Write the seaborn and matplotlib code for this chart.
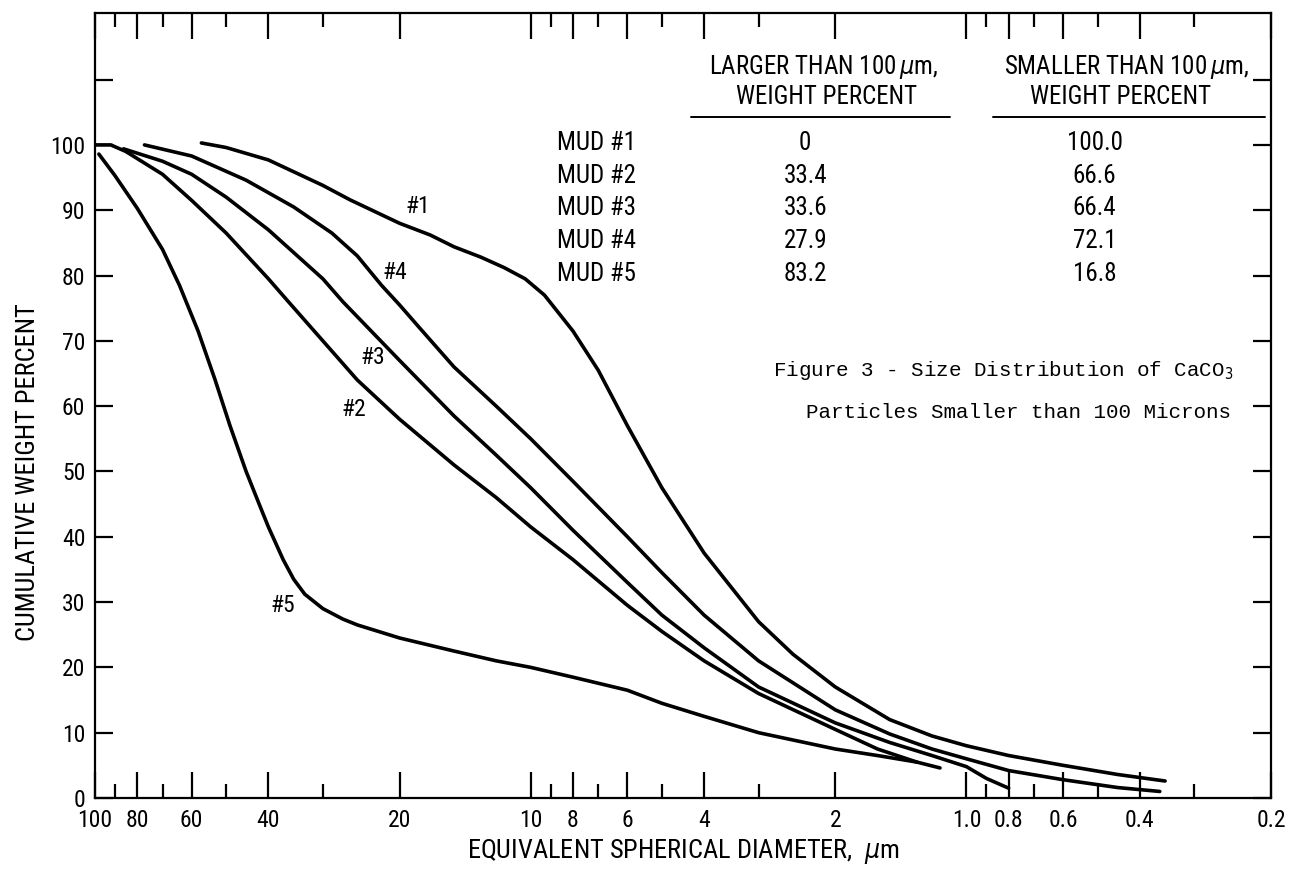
import pandas as pd
import matplotlib
matplotlib.use("Agg")
import matplotlib.pyplot as plt
import matplotlib.transforms as mtrans
from matplotlib import font_manager
import seaborn as sns

# curvas: diametro (um) x % acumulada
mud1_x = [57, 50, 40, 30, 26, 20, 17, 15, 13, 11.5, 10.3, 9.3, 8, 7, 6, 5, 4, 3, 2.5, 2, 1.5, 1.2, 1.0, 0.8, 0.6, 0.45, 0.35]
mud1_y = [100.3, 99.6, 97.7, 93.8, 91.6, 88.0, 86.2, 84.4, 82.8, 81.2, 79.5, 77, 71.5, 65.5, 57, 47.5, 37.5, 27, 22, 17, 12, 9.5, 8, 6.5, 5, 3.6, 2.6]
mud2_x = [100, 92, 85, 70, 60, 50, 40, 36, 30, 25, 20, 15, 12, 10, 8, 6, 5, 4, 3, 2, 1.6, 1.3, 1.15]
mud2_y = [100, 100, 99, 95.5, 91.5, 86.5, 79.5, 76, 70, 64, 58, 51, 46, 41.5, 36.5, 29.5, 25.5, 21, 16, 10.5, 7.5, 5.5, 4.6]
mud3_x = [86, 70, 60, 50, 40, 30, 27, 20, 15, 12, 10, 8, 6, 5, 4, 3, 2, 1.5, 1.2, 1.0, 0.9, 0.8]
mud3_y = [99.4, 97.5, 95.5, 92, 87, 79.5, 76, 67, 58.5, 52.5, 47.5, 41, 33, 28, 23, 17, 11.5, 8.5, 6.5, 4.8, 3.0, 1.5]
mud4_x = [77, 60, 45, 35, 28.6, 25, 22, 20, 18, 15, 12, 10, 8, 6, 5, 4, 3, 2, 1.5, 1.2, 1.0, 0.8, 0.6, 0.45, 0.36]
mud4_y = [100, 98.3, 94.6, 90.5, 86.5, 83, 78.5, 75.5, 72, 66, 60, 55, 48.5, 40, 34.5, 28, 21, 13.5, 9.8, 7.5, 6, 4.2, 2.8, 1.6, 1.0]
mud5_x = [98, 90, 80, 70, 64, 58, 53, 49, 45, 42, 40, 37, 35, 33, 30, 27, 25, 20, 15, 12, 10, 8, 6, 5, 4, 3, 2, 1.6, 1.3]
mud5_y = [98.6, 95.3, 90.3, 84, 78.5, 71.5, 64, 57, 50, 45, 41.5, 36.5, 33.5, 31.2, 29, 27.4, 26.5, 24.5, 22.5, 21, 20, 18.5, 16.5, 14.5, 12.5, 10, 7.5, 6.5, 5.5]

curve_labels = ['#1', '#2', '#3', '#4', '#5']
label_x = [18.2, 25.5, 23, 20.5, 37]
label_y = [90.5, 59.5, 67.5, 80.5, 29.5]

tick_x = [100, 80, 60, 40, 20, 10, 8, 6, 4, 2, 1, 0.8, 0.6, 0.4, 0.2]
tick_x_labels = ['100', '80', '60', '40', '20', '10', '8', '6', '4', '2', '1.0', '0.8', '0.6', '0.4', '0.2']
minor_x = [90, 70, 50, 30, 9, 7, 5, 3, 0.9, 0.7, 0.5, 0.3]
tick_y = [0, 10, 20, 30, 40, 50, 60, 70, 80, 90, 100, 110]
tick_y_labels = ['0', '10', '20', '30', '40', '50', '60', '70', '80', '90', '100', '']

mud_names = ['MUD #1', 'MUD #2', 'MUD #3', 'MUD #4', 'MUD #5']
larger_pct = ['0', '33.4', '33.6', '27.9', '83.2']
smaller_pct = ['100.0', '66.6', '66.4', '72.1', '16.8']
row_y = [100.3, 95.3, 90.4, 85.3, 80.2]

frames = []
for nome, xs, ys in zip(curve_labels,
                        [mud1_x, mud2_x, mud3_x, mud4_x, mud5_x],
                        [mud1_y, mud2_y, mud3_y, mud4_y, mud5_y]):
    frames.append(pd.DataFrame({'mud': nome, 'diam': xs, 'pct': ys}))
df = pd.concat(frames, ignore_index=True)

sns.set_theme(style="ticks")

# fonte estreita se existir
instaladas = {f.name for f in font_manager.fontManager.ttflist}
condensadas = [f.name for f in font_manager.fontManager.ttflist if f.stretch in ('condensed', 'semi-condensed')]
narrow = [n for n in ['Liberation Sans Narrow', 'Roboto Condensed', 'Open Sans Condensed'] if n in instaladas]
if not narrow and condensadas:
    narrow = [condensadas[0]]
narrow = narrow + ['DejaVu Sans']
mono = [n for n in ['Liberation Mono', 'DejaVu Sans Mono'] if n in instaladas]

plt.rcParams['font.family'] = narrow
plt.rcParams['font.stretch'] = 'condensed'
plt.rcParams['text.color'] = 'black'
plt.rcParams['axes.labelcolor'] = 'black'
plt.rcParams['xtick.color'] = 'black'
plt.rcParams['ytick.color'] = 'black'
plt.rcParams['axes.linewidth'] = 1.6

fig = plt.figure(figsize=(12.91, 8.84), dpi=100)
ax = fig.add_axes([0.0736, 0.0973, 0.9109, 0.888])
ax.set_xscale('log')

sns.lineplot(data=df, x='diam', y='pct', hue='mud', palette=['black'] * 5,
             sort=False, estimator=None, legend=False, linewidth=2.6, ax=ax)

ax.set_xlim(100, 0.2)
ax.set_ylim(0, 120.2)
ax.set_xticks(tick_x)
ax.set_xticklabels(tick_x_labels, fontsize=17)
ax.set_xticks(minor_x, minor=True)
ax.xaxis.set_minor_formatter(plt.NullFormatter())
ax.set_yticks(tick_y)
ax.set_yticklabels(tick_y_labels, fontsize=17)
ax.tick_params(axis='x', which='major', direction='in', length=19, width=1.6, top=True, bottom=True, pad=8)
ax.tick_params(axis='x', which='minor', direction='in', length=10, width=1.6, top=True, bottom=True)
ax.tick_params(axis='y', which='major', direction='in', length=13, width=1.6, left=True, right=True, pad=7)
for s in ax.spines.values():
    s.set_color('black')

ax.set_xlabel('EQUIVALENT SPHERICAL DIAMETER,  $\\mu$m', fontsize=19)
ax.xaxis.set_label_coords(0.5, -0.05)
ax.set_ylabel('CUMULATIVE WEIGHT PERCENT', fontsize=19)
ax.yaxis.set_label_coords(-0.047, 0.415)

for lab, lx, ly in zip(curve_labels, label_x, label_y):
    ax.text(lx, ly, lab, fontsize=17, ha='center', va='center')

# tabela no canto
tr = mtrans.blended_transform_factory(ax.transAxes, ax.transData)
fs_tab = 18
ax.text(0.620, 112, 'LARGER THAN 100$\\,\\mu$m,', transform=tr, fontsize=fs_tab, ha='center', va='center')
ax.text(0.622, 107.3, 'WEIGHT PERCENT', transform=tr, fontsize=fs_tab, ha='center', va='center')
ax.text(0.877, 112, 'SMALLER THAN 100$\\,\\mu$m,', transform=tr, fontsize=fs_tab, ha='center', va='center')
ax.text(0.872, 107.3, 'WEIGHT PERCENT', transform=tr, fontsize=fs_tab, ha='center', va='center')
ax.plot([0.507, 0.727], [104.2, 104.2], transform=tr, color='black', lw=1.4)
ax.plot([0.764, 0.995], [104.2, 104.2], transform=tr, color='black', lw=1.4)
for nome, a, b, ry in zip(mud_names, larger_pct, smaller_pct, row_y):
    ax.text(0.393, ry, nome, transform=tr, fontsize=fs_tab, ha='left', va='center')
    ax.text(0.604, ry, a, transform=tr, fontsize=fs_tab, ha='center', va='center')
    ax.text(0.850, ry, b, transform=tr, fontsize=fs_tab, ha='center', va='center')

ax.text(0.968, 65.5, 'Figure 3 - Size Distribution of CaCO$_3$', transform=tr,
        fontsize=15, ha='right', va='center', family=mono, fontstretch='normal')
ax.text(0.966, 59, 'Particles Smaller than 100 Microns', transform=tr,
        fontsize=15, ha='right', va='center', family=mono, fontstretch='normal')

plt.savefig('out.png', dpi=100)
